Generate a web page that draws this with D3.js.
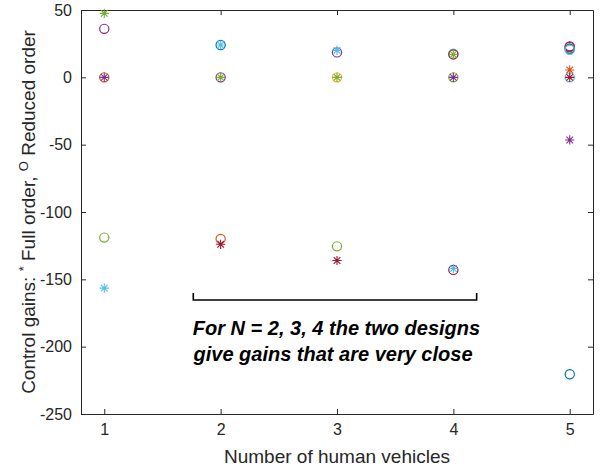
<!DOCTYPE html>
<html>
<head>
<meta charset="utf-8">
<script src="https://cdn.jsdelivr.net/npm/d3@7"></script>
<style>
  html, body { margin: 0; padding: 0; background: #fff; }
  svg { display: block; }
  text { font-family: "Liberation Sans", Arial, Helvetica, sans-serif; fill: #262626; }
</style>
</head>
<body>
<svg id="chart" width="603" height="470"></svg>
<script>
// Number of human vehicles on the x axis
const vehicleCounts = [1, 2, 3, 4, 5];
const yTicks = [50, 0, -50, -100, -150, -200, -250];

// Reduced-order design gains (circles): vehicle count, gain value, gain component
const reducedN     = [1, 1, 1,    2, 2, 2,    3, 3, 3,     4, 4, 4, 4,       5, 5, 5, 5, 5, 5, 5];
const reducedGain  = [36, 0, -119, 24, 0, -120, 18.5, 0, -125.5, 17.5, 17, 0, -143, 23, 22.5, 21.5, 21, 20.5, 0, -220.5];
const reducedComp  = [4, 2, 5,    1, 4, 2,    4, 3, 5,     6, 7, 5, 7,       7, 4, 2, 1, 6, 6, 1];

// Full-order design gains (asterisks)
const fullN    = [1, 1, 1,      2, 2, 2,      3, 3, 3,      4, 4, 4,      5, 5, 5];
const fullGain = [47.5, 0, -156.5, 24, 0, -124, 20, 0, -136, 17, 0, -142, 5.5, 0, -46.5];
const fullComp = [5, 4, 6,      6, 5, 7,      6, 5, 7,      5, 4, 6,      2, 7, 4];

// Default line colour order
const palette = ["#0072BD", "#D95319", "#EDB120", "#7E2F8E", "#77AC30", "#4DBEEE", "#A2142F"];

const svg = d3.select("#chart");
const margin = { left: 81, right: 10, top: 10, bottom: 56 };
const W = 603, H = 470;

const x = d3.scaleLinear().domain([0.8, 5.2]).range([margin.left, W - margin.right]);
const y = d3.scaleLinear().domain([-250, 50]).range([H - margin.bottom, margin.top]);
const colour = d3.scaleOrdinal().domain([1, 2, 3, 4, 5, 6, 7]).range(palette);

const x0 = x.range()[0], x1 = x.range()[1];
const y0 = y.range()[0], y1 = y.range()[1];

// Box axes with inward ticks on all four sides
const tickLen = 5;
const axisColour = "#262626";
const axes = svg.append("g");

const axBottom = axes.append("g").attr("transform", `translate(0,${y0})`)
  .call(d3.axisBottom(x).tickValues(vehicleCounts).tickFormat(d3.format("d")).tickSizeInner(-tickLen).tickSizeOuter(0).tickPadding(10));
const axTop = axes.append("g").attr("transform", `translate(0,${y1})`)
  .call(d3.axisTop(x).tickValues(vehicleCounts).tickFormat("").tickSizeInner(-tickLen).tickSizeOuter(0));
const axLeft = axes.append("g").attr("transform", `translate(${x0},0)`)
  .call(d3.axisLeft(y).tickValues(yTicks).tickFormat(d3.format("d")).tickSizeInner(-tickLen).tickSizeOuter(0).tickPadding(9));
const axRight = axes.append("g").attr("transform", `translate(${x1},0)`)
  .call(d3.axisRight(y).tickValues(yTicks).tickFormat("").tickSizeInner(-tickLen).tickSizeOuter(0));

[axBottom, axTop, axLeft, axRight].forEach(g => {
  g.select(".domain").attr("stroke", axisColour).attr("stroke-width", 1);
  g.selectAll(".tick line").attr("stroke", axisColour).attr("stroke-width", 1);
  g.selectAll(".tick text").style("font-size", "16px").style("fill", axisColour)
    .style("font-family", "'Liberation Sans', Arial, sans-serif");
});
// d3 renders negative numbers with a true minus sign; use a hyphen instead
axLeft.selectAll(".tick text").text(d => String(d));

// Plot area marks
const plot = svg.append("g");

const reduced = reducedN.map((n, i) => ({ n, g: reducedGain[i], c: reducedComp[i] }));
const full = fullN.map((n, i) => ({ n, g: fullGain[i], c: fullComp[i] }));

plot.selectAll("circle.reduced").data(reduced).join("circle")
  .attr("class", "reduced")
  .attr("cx", d => x(d.n)).attr("cy", d => y(d.g)).attr("r", 4.6)
  .attr("fill", "none").attr("stroke", d => colour(d.c)).attr("stroke-width", 1.2);

// Asterisk marker: vertical, horizontal and two diagonal strokes
const arm = 4.6, diag = arm * 0.72;
const starPath = `M0,${-arm}V${arm}M${-arm},0H${arm}M${-diag},${-diag}L${diag},${diag}M${-diag},${diag}L${diag},${-diag}`;
plot.selectAll("path.full").data(full).join("path")
  .attr("class", "full")
  .attr("transform", d => `translate(${x(d.n)},${y(d.g)})`)
  .attr("d", starPath)
  .attr("fill", "none").attr("stroke", d => colour(d.c)).attr("stroke-width", 1.1);

// Bracket spanning N = 2..4 with the annotation underneath
const bracketY = 300;
const bx0 = x(1.765), bx1 = x(4.2);
svg.append("path")
  .attr("d", `M${bx0},${bracketY - 7}V${bracketY}H${bx1}V${bracketY - 7}`)
  .attr("fill", "none").attr("stroke", "#000").attr("stroke-width", 1.6);

const note = svg.append("text")
  .attr("text-anchor", "middle")
  .style("font-size", "20px").style("font-weight", "bold").style("font-style", "italic")
  .style("fill", "#000");
note.append("tspan").attr("x", 336.5).attr("y", 335).text("For N = 2, 3, 4 the two designs");
note.append("tspan").attr("x", 333).attr("y", 361).text("give gains that are very close");

// Axis titles
svg.append("text")
  .attr("x", (x0 + x1) / 2).attr("y", 463)
  .attr("text-anchor", "middle").style("font-size", "19px")
  .text("Number of human vehicles");

const ylab = svg.append("text")
  .attr("transform", `translate(35,${(y0 + y1) / 2}) rotate(-90)`)
  .attr("text-anchor", "middle").style("font-size", "19px");
ylab.append("tspan").text("Control gains:  ");
ylab.append("tspan").attr("dy", -7).style("font-size", "13px").text("*");
ylab.append("tspan").attr("dy", 7).text("   Full order,  ");
ylab.append("tspan").attr("dy", -7).style("font-size", "13px").text("O");
ylab.append("tspan").attr("dy", 7).text("   Reduced order");
</script>
</body>
</html>
